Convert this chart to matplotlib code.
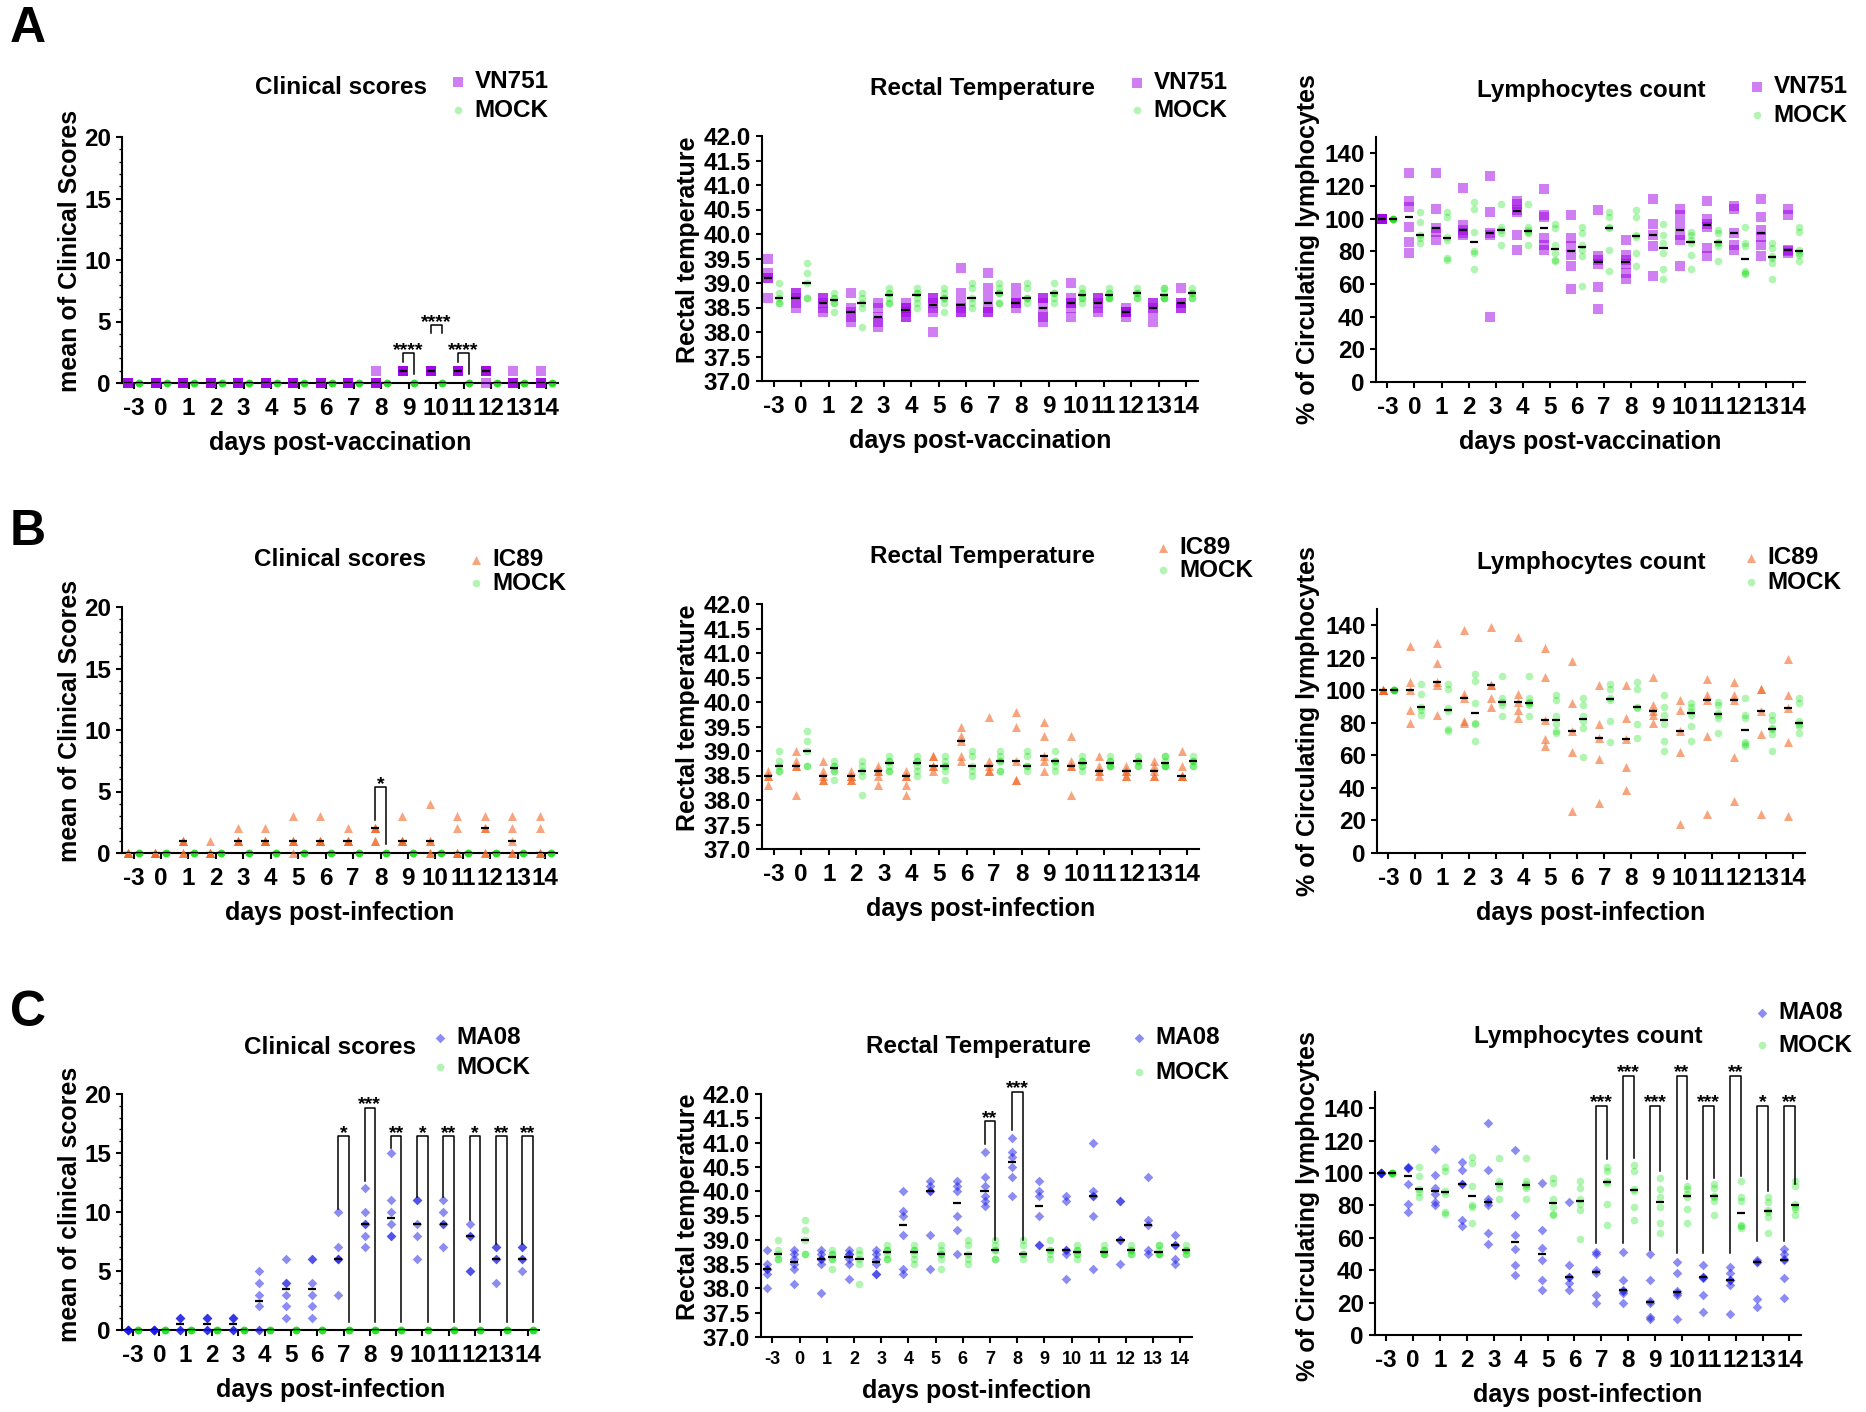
import numpy as np
import matplotlib
matplotlib.use("Agg")
import matplotlib.pyplot as plt
from matplotlib.ticker import MultipleLocator

plt.rcParams["font.family"] = ["Liberation Sans", "DejaVu Sans"]
plt.rcParams["font.weight"] = "bold"
plt.rcParams["axes.labelweight"] = "bold"

W, H = 1866, 1412
OFF = 0.2  # infected column left of the tick, mock column right of it

DAYS = ["-3", "0", "1", "2", "3", "4", "5", "6", "7", "8", "9", "10", "11", "12", "13", "14"]

# ---- MOCK group (same controls in every row) ----
MOCK_SCORE = [
    [0, 0, 0, 0, 0], [0, 0, 0, 0, 0], [0, 0, 0, 0, 0], [0, 0, 0, 0, 0],
    [0, 0, 0, 0, 0], [0, 0, 0, 0, 0], [0, 0, 0, 0, 0], [0, 0, 0, 0, 0],
    [0, 0, 0, 0, 0], [0, 0, 0, 0, 0], [0, 0, 0, 0, 0], [0, 0, 0, 0, 0],
    [0, 0, 0, 0, 0], [0, 0, 0, 0, 0], [0, 0, 0, 0, 0], [0, 0, 0, 0, 0],
]
MOCK_TEMP = [
    [39.0, 38.8, 38.7, 38.6, 38.6],
    [39.4, 39.2, 39.0, 38.7, 38.7],
    [38.8, 38.7, 38.7, 38.6, 38.6, 38.4],
    [38.8, 38.7, 38.6, 38.5, 38.1],
    [38.9, 38.8, 38.8, 38.7, 38.6, 38.6],
    [38.9, 38.8, 38.8, 38.7, 38.6, 38.5],
    [38.9, 38.8, 38.7, 38.7, 38.6, 38.4],
    [39.0, 38.9, 38.7, 38.6, 38.5],
    [39.0, 38.9, 38.8, 38.8, 38.6, 38.6],
    [39.0, 38.9, 38.7, 38.7, 38.6],
    [39.0, 38.8, 38.8, 38.7, 38.6],
    [38.9, 38.8, 38.8, 38.7, 38.7, 38.6],
    [38.9, 38.8, 38.8, 38.7, 38.7, 38.7],
    [38.9, 38.8, 38.8, 38.7, 38.7],
    [38.9, 38.9, 38.8, 38.7, 38.7, 38.7],
    [38.9, 38.8, 38.8, 38.7, 38.7],
]
MOCK_LYMPH = [
    [100, 100, 100, 100, 100],
    [104, 98, 90, 88, 85],
    [104, 101, 89, 87, 76, 75],
    [110, 106, 92, 80, 79, 69],
    [109, 95, 93, 91, 84],
    [109, 95, 93, 92, 91, 84],
    [97, 94, 84, 79, 75, 74],
    [95, 91, 84, 81, 77, 59],
    [104, 101, 95, 94, 81, 68],
    [105, 101, 90, 89, 79, 71],
    [97, 90, 85, 79, 69, 63],
    [92, 90, 87, 85, 78, 69],
    [93, 91, 86, 85, 83, 74],
    [95, 85, 83, 68, 67, 66],
    [85, 82, 77, 76, 73, 63],
    [95, 92, 81, 79, 78, 74],
]

# ---- A: VN751 ----
VN751_SCORE = [
    [0, 0, 0, 0, 0], [0, 0, 0, 0, 0], [0, 0, 0, 0, 0], [0, 0, 0, 0, 0],
    [0, 0, 0, 0, 0], [0, 0, 0, 0, 0], [0, 0, 0, 0, 0], [0, 0, 0, 0, 0],
    [0, 0, 0, 0, 0], [1, 0, 0, 0, 0], [1, 1, 1, 1, 1], [1, 1, 1, 1, 1],
    [1, 1, 1, 1, 1], [1, 1, 1, 1, 0], [1, 0, 0, 0, 0], [1, 0, 0, 0, 0],
]
VN751_TEMP = [
    [39.5, 39.2, 39.1, 39.1, 38.7],
    [38.8, 38.8, 38.7, 38.6, 38.5],
    [38.7, 38.7, 38.6, 38.5, 38.4],
    [38.8, 38.5, 38.4, 38.3, 38.2],
    [38.6, 38.5, 38.3, 38.2, 38.1],
    [38.6, 38.5, 38.5, 38.4, 38.3, 38.3],
    [38.7, 38.7, 38.6, 38.5, 38.4, 38.0],
    [39.3, 38.8, 38.6, 38.5, 38.4, 38.4],
    [39.2, 38.9, 38.7, 38.5, 38.4, 38.4],
    [38.9, 38.7, 38.6, 38.6, 38.5],
    [38.7, 38.7, 38.6, 38.4, 38.3, 38.2],
    [39.0, 38.7, 38.6, 38.6, 38.5, 38.3],
    [38.7, 38.7, 38.6, 38.5, 38.4],
    [38.5, 38.4, 38.4, 38.4, 38.3],
    [38.6, 38.6, 38.5, 38.4, 38.2],
    [38.9, 38.6, 38.6, 38.5, 38.5],
]
VN751_LYMPH = [
    [100, 100, 100, 100, 100],
    [128, 111, 107, 95, 86, 79],
    [128, 106, 94, 92, 87],
    [119, 96, 93, 91, 90],
    [126, 104, 91, 90, 40],
    [111, 109, 105, 104, 90, 81],
    [118, 102, 101, 88, 84, 81],
    [102, 88, 83, 78, 71, 57],
    [105, 77, 75, 72, 58, 45],
    [87, 78, 75, 72, 67, 63],
    [112, 97, 90, 83, 65],
    [106, 102, 96, 90, 87, 71],
    [111, 100, 97, 95, 82, 77],
    [108, 106, 91, 84, 81],
    [112, 101, 93, 89, 84, 77],
    [106, 102, 81, 80, 79],
]

# ---- B: IC89 ----
IC89_SCORE = [
    [0, 0, 0, 0, 0], [0, 0, 0, 0, 0], [1, 1, 1, 0, 0], [1, 0, 0, 0, 0],
    [2, 1, 1, 1, 1], [2, 1, 1, 1, 1], [3, 1, 1, 1, 0], [3, 1, 1, 1, 1],
    [2, 1, 1, 1, 1], [2, 2, 2, 1, 1], [3, 1, 1, 1, 1], [4, 1, 1, 0, 0],
    [3, 2, 0, 0, 0], [3, 2, 2, 0, 0], [3, 2, 1, 0, 0], [3, 2, 0, 0, 0],
]
IC89_TEMP = [
    [38.6, 38.5, 38.5, 38.3],
    [39.0, 38.8, 38.7, 38.7, 38.1],
    [38.8, 38.6, 38.5, 38.4, 38.4],
    [38.6, 38.5, 38.5, 38.4, 38.4],
    [38.7, 38.6, 38.6, 38.5, 38.3],
    [38.6, 38.5, 38.5, 38.3, 38.1],
    [38.9, 38.9, 38.7, 38.7, 38.6],
    [39.5, 39.3, 39.2, 38.9, 38.8],
    [39.7, 38.8, 38.7, 38.6, 38.6],
    [39.8, 39.5, 38.8, 38.4, 38.4],
    [39.6, 39.3, 38.9, 38.8, 38.6],
    [39.3, 38.8, 38.7, 38.7, 38.1],
    [38.9, 38.7, 38.6, 38.6, 38.5],
    [38.7, 38.6, 38.6, 38.5, 38.5],
    [38.8, 38.7, 38.6, 38.5, 38.5],
    [39.0, 38.7, 38.5, 38.5, 38.5],
]
IC89_LYMPH = [
    [100, 100, 100, 100, 100],
    [127, 105, 100, 88, 80],
    [129, 117, 105, 103, 85],
    [137, 98, 95, 81, 80],
    [139, 103, 103, 95, 90],
    [133, 98, 93, 88, 83],
    [126, 108, 82, 70, 66],
    [118, 92, 75, 62, 26],
    [103, 79, 71, 58, 31],
    [103, 83, 70, 53, 39],
    [108, 91, 87, 85, 80],
    [94, 88, 75, 62, 18],
    [107, 97, 94, 72, 24],
    [105, 97, 94, 59, 32],
    [101, 101, 87, 73, 24],
    [119, 97, 89, 68, 23],
]

# ---- C: MA08 ----
MA08_SCORE = [
    [0, 0, 0, 0, 0, 0], [0, 0, 0, 0, 0, 0], [1, 1, 1, 0, 0, 0], [1, 1, 1, 0, 0, 0],
    [1, 1, 1, 0, 0, 0], [5, 4, 3, 2, 0, 0], [6, 4, 4, 3, 2, 1], [6, 6, 4, 3, 2, 1],
    [10, 7, 6, 6, 6, 3], [12, 10, 9, 9, 8, 7], [15, 11, 10, 9, 8, 8], [11, 11, 9, 8, 6],
    [11, 10, 9, 9, 7], [9, 8, 8, 5, 5], [7, 7, 6, 6, 4], [7, 7, 6, 6, 5],
]
MA08_TEMP = [
    [38.8, 38.5, 38.4, 38.4, 38.3, 38.0],
    [38.8, 38.7, 38.6, 38.5, 38.4, 38.1],
    [38.8, 38.7, 38.6, 38.6, 38.5, 37.9],
    [38.8, 38.7, 38.7, 38.6, 38.5, 38.2],
    [38.8, 38.7, 38.6, 38.5, 38.3, 38.3],
    [40.0, 39.6, 39.5, 39.1, 38.4, 38.3],
    [40.2, 40.1, 40.0, 40.0, 39.1, 38.4],
    [40.2, 40.1, 40.0, 39.5, 39.2, 38.7],
    [40.8, 40.3, 40.1, 39.9, 39.8, 39.7],
    [41.1, 40.8, 40.7, 40.5, 40.3, 39.9],
    [40.2, 40.0, 39.9, 39.5, 38.9, 38.9],
    [39.9, 39.8, 38.8, 38.8, 38.7, 38.2],
    [41.0, 40.0, 39.9, 39.9, 39.5, 38.4],
    [39.8, 39.8, 39.0, 39.0, 38.5],
    [40.3, 39.4, 39.3, 38.8, 38.7],
    [39.1, 38.9, 38.9, 38.6, 38.5],
]
MA08_LYMPH = [
    [100, 100, 100, 100, 100, 100],
    [104, 103, 103, 93, 81, 76],
    [115, 99, 91, 87, 82, 80],
    [107, 102, 93, 93, 71, 67],
    [131, 102, 84, 82, 80, 63, 56],
    [114, 74, 62, 53, 43, 37],
    [94, 65, 54, 46, 34, 28],
    [82, 43, 36, 36, 32, 28],
    [51, 50, 40, 38, 25, 20],
    [51, 34, 28, 27, 26, 20],
    [50, 34, 21, 20, 11, 10],
    [45, 38, 27, 26, 25, 10],
    [43, 36, 36, 35, 25, 14],
    [42, 38, 34, 34, 31, 13],
    [46, 45, 45, 22, 17],
    [53, 50, 47, 46, 35, 23],
]

# significance brackets: (tick index, bracket top, left leg end, right leg end, stars)
SIG_A_SCORE = [(10, 2.4, 1.7, 0.75, "****"), (11, 4.7, 4.1, 4.1, "****"), (12, 2.4, 1.7, 0.75, "****")]
SIG_B_SCORE = [(9, 5.35, 2.65, 0.75, "*")]
SIG_C_SCORE = [(8, 16.4, 10.25, 0.65, "*"), (9, 18.8, 12.6, 0.65, "***"),
               (10, 16.4, 15.4, 0.65, "**"), (11, 16.4, 11.3, 0.65, "*"),
               (12, 16.4, 11.3, 0.65, "**"), (13, 16.4, 9.3, 0.65, "*"),
               (14, 16.4, 7.3, 0.65, "**"), (15, 16.4, 7.3, 0.65, "**")]
SIG_C_TEMP = [(8, 41.44, 40.97, 38.99, "**"), (9, 42.04, 41.26, 38.99, "***")]
SIG_C_LYMPH = [(8, 141.4, 56.8, 108.4, "***"), (9, 160, 56.8, 109.4, "***"),
               (10, 141.4, 52.7, 101, "***"), (11, 160, 50.6, 96, "**"),
               (12, 141.4, 50.6, 97, "***"), (13, 160, 50.6, 98, "**"),
               (14, 141.4, 57.8, 88.8, "*"), (15, 141.4, 57.8, 93, "**")]

MOCK_STYLE = dict(marker="o", color="#00DD00", alpha=0.3, s=30)

ROWS = [
    dict(letter="A", letter_top=6, name="VN751",
         style=dict(marker="s", color="#A000E6", alpha=0.5, s=42),
         data=[VN751_SCORE, VN751_TEMP, VN751_LYMPH],
         sig=[SIG_A_SCORE, [], []],
         xlabel="days post-vaccination", score_label="mean of Clinical Scores",
         axes=[(122, 137, 558, 383), (762, 136, 1198, 381), (1376, 137, 1805, 382)],
         titles=[(341, 88), (982, 89), (1591, 90)],
         legends=[(458, 82, 110), (1137, 83, 110), (1757, 87, 115)],
         ylabels=[(70, 251), (688, 250), (1308, 249)]),
    dict(letter="B", letter_top=509, name="IC89",
         style=dict(marker="^", color="#F06A28", alpha=0.6, s=42),
         data=[IC89_SCORE, IC89_TEMP, IC89_LYMPH],
         sig=[SIG_B_SCORE, [], []],
         xlabel="days post-infection", score_label="mean of Clinical Scores",
         axes=[(122, 607, 557, 853), (762, 604, 1199, 849), (1377, 609, 1805, 853)],
         titles=[(340, 560), (982, 557), (1591, 562)],
         legends=[(476, 560, 583), (1163, 548, 570), (1751, 558, 582)],
         ylabels=[(70, 721), (688, 718), (1308, 721)]),
    dict(letter="C", letter_top=990, name="MA08",
         style=dict(marker="D", color="#1A1AE6", alpha=0.5, s=24),
         data=[MA08_SCORE, MA08_TEMP, MA08_LYMPH],
         sig=[SIG_C_SCORE, SIG_C_TEMP, SIG_C_LYMPH],
         xlabel="days post-infection", score_label="mean of clinical scores",
         axes=[(122, 1094, 539, 1330), (761, 1094, 1192, 1337), (1375, 1092, 1801, 1335)],
         titles=[(330, 1048), (978, 1047), (1588, 1037)],
         legends=[(440, 1038, 1067), (1139, 1038, 1072), (1762, 1013, 1045)],
         ylabels=[(70, 1204), (688, 1207), (1308, 1206)]),
]

TITLES = ["Clinical scores", "Rectal Temperature", "Lymphocytes count"]
MOCKS = [MOCK_SCORE, MOCK_TEMP, MOCK_LYMPH]
LEG_FS = 17.5


def px_rect(l, t, r, b):
    return [l / W, 1 - b / H, (r - l) / W, (b - t) / H]


def dot_column(ax, groups, shift, style):
    xs, ys = [], []
    for i, vals in enumerate(groups):
        xs += [i + shift] * len(vals)
        ys += list(vals)
    sc = ax.scatter(xs, ys, linewidths=0, clip_on=False, zorder=3, **style)
    x = np.arange(len(groups)) + shift
    med = [np.median(v) for v in groups]
    ax.hlines(med, x - 0.15, x + 0.15, color="black", lw=1.6, zorder=4)
    return sc


def brackets(ax, marks):
    for idx, top, left_end, right_end, stars in marks:
        x0, x1 = idx - OFF, idx + OFF
        ax.plot([x0, x0, x1, x1], [left_end, top, top, right_end],
                color="black", lw=1.1, clip_on=False, zorder=5)
        ax.annotate(stars, xy=(idx, top), xytext=(0, -1), textcoords="offset points",
                    ha="center", va="baseline", fontsize=14, annotation_clip=False)


fig = plt.figure(figsize=(W / 100, H / 100), dpi=100)

for row in ROWS:
    fig.text(10 / W, 1 - row["letter_top"] / H, row["letter"], fontsize=36,
             ha="left", va="top")
    for k in range(3):
        ax = fig.add_axes(px_rect(*row["axes"][k]))
        h_inf = dot_column(ax, row["data"][k], -OFF, row["style"])
        h_mock = dot_column(ax, MOCKS[k], OFF, MOCK_STYLE)
        brackets(ax, row["sig"][k])

        ax.set_xlim(-0.42, 15.43)
        ax.set_xticks(range(len(DAYS)))
        xsize = 13 if (row["letter"] == "C" and k == 1) else 17.5
        ax.set_xticklabels(DAYS, fontsize=xsize)

        if k == 0:
            ax.set_ylim(0, 20)
            ax.set_yticks([0, 5, 10, 15, 20])
            ax.yaxis.set_minor_locator(MultipleLocator(1))
            ylab = row["score_label"]
        elif k == 1:
            ax.set_ylim(37, 42)
            ticks = np.arange(37, 42.01, 0.5)
            ax.set_yticks(ticks)
            ax.set_yticklabels([f"{t:.1f}" for t in ticks])
            ylab = "Rectal temperature"
        else:
            ax.set_ylim(0, 150)
            ax.set_yticks(range(0, 141, 20))
            ylab = "% of Circulating lymphocytes"

        for s in ["top", "right"]:
            ax.spines[s].set_visible(False)
        for s in ["left", "bottom"]:
            ax.spines[s].set_linewidth(1.5)
        ax.tick_params(axis="both", which="major", width=1.5, length=4, pad=6)
        ax.tick_params(axis="y", which="major", labelsize=17.5, pad=4)
        ax.tick_params(axis="y", which="minor", width=1.0, length=2.5)
        ax.tick_params(axis="x", which="minor", bottom=False)

        ax.set_xlabel(row["xlabel"], fontsize=18, labelpad=8)
        cx, cy = row["ylabels"][k]
        fig.text(cx / W, 1 - cy / H, ylab, rotation=90, ha="center", va="center",
                 fontsize=18)

        tx, ty = row["titles"][k]
        fig.text(tx / W, 1 - ty / H, TITLES[k], ha="center", va="center", fontsize=17.5)

        mx, y1, y2 = row["legends"][k]
        fs_px = LEG_FS * 100 / 72
        spacing = max((y2 - y1 - 0.94 * fs_px) / fs_px, -0.1)
        ax.legend([h_inf, h_mock], [row["name"], "MOCK"], loc="center left",
                  bbox_to_anchor=((mx - 0.3 * fs_px) / W, 1 - (y1 + y2) / 2 / H),
                  bbox_transform=fig.transFigure, frameon=False, scatterpoints=1,
                  handlelength=0.6, handletextpad=0.38, borderpad=0, borderaxespad=0,
                  labelspacing=spacing, fontsize=LEG_FS)

fig.savefig("out.png", dpi=100, facecolor="white")
